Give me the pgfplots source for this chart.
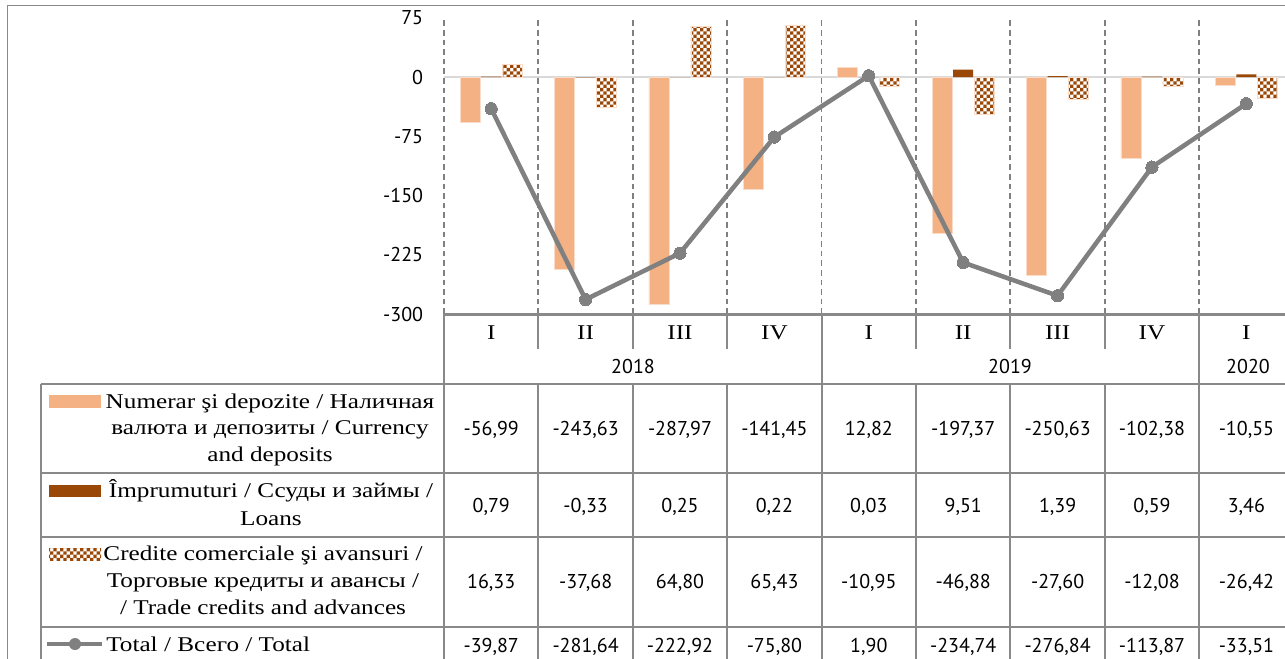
\documentclass[border=0pt]{standalone}
\usepackage{fontspec}
\setmainfont{Liberation Serif}[FakeStretch=1.2]
\newfontfamily\sansf{PT Sans}
\usepackage{pgfplots}
\usepackage{pgfplotstable}
\pgfplotsset{compat=1.18}
\usetikzlibrary{patterns}

\pgfdeclarepatternformonly{bigcheck}{\pgfqpoint{-.1pt}{-.1pt}}{\pgfqpoint{5.1pt}{5.1pt}}{\pgfqpoint{5pt}{5pt}}{%
  \pgfpathrectangle{\pgfqpoint{0pt}{0pt}}{\pgfqpoint{2.55pt}{2.55pt}}%
  \pgfpathrectangle{\pgfqpoint{2.5pt}{2.5pt}}{\pgfqpoint{2.55pt}{2.55pt}}%
  \pgfusepath{fill}}

\definecolor{cur}{RGB}{244,177,131}
\definecolor{loan}{RGB}{153,72,8}
\definecolor{tot}{RGB}{128,128,128}
\definecolor{gridc}{RGB}{128,128,128}
\definecolor{zeroc}{RGB}{217,217,217}
\definecolor{tbl}{RGB}{137,137,137}
\definecolor{edge}{RGB}{250,220,200}

\pgfplotstableread{
x cur loan trade total
0 -56.99 0.79 16.33 -39.87
1 -243.63 -0.33 -37.68 -281.64
2 -287.97 0.25 64.80 -222.92
3 -141.45 0.22 65.43 -75.80
4 12.82 0.03 -10.95 1.90
5 -197.37 9.51 -46.88 -234.74
6 -250.63 1.39 -27.60 -276.84
7 -102.38 0.59 -12.08 -113.87
8 -10.55 3.46 -26.42 -33.51
}\data

\newcommand\serifsz{\fontsize{15.75}{19}\selectfont}
\newcommand\sanssz{\sansf\fontsize{15}{18}\selectfont}

\begin{document}
\begin{tikzpicture}
\useasboundingbox (0pt,0pt) rectangle (963.75pt,-493.5pt);
\clip (0pt,0pt) rectangle (963.75pt,-493.5pt);

\begin{axis}[
  at={(333pt,-235.5pt)}, anchor=south west,
  width=630.75pt, height=222pt, scale only axis,
  xmin=-0.5, xmax=8.41, ymin=-300, ymax=75,
  clip=false,
  axis line style={draw=none},
  tick style={draw=none},
  major tick length=0pt,
  xtick={-0.5,0.5,...,7.5}, xticklabels={},
  xmajorgrids,
  major grid style={gridc, line width=1.4pt, dash pattern=on 4.2pt off 3pt},
  ytick={-300,-225,-150,-75,0,75},
  yticklabels={-300,-225,-150,-75,0,75},
  yticklabel style={font=\sanssz, inner sep=0pt, xshift=-15.5pt},
]
\draw[zeroc, line width=1.6pt] (axis cs:-0.5,0) -- (axis cs:8.41,0);
\addplot[ybar, bar width=15pt, bar shift=-15.75pt, fill=cur, draw=edge, line width=0.5pt] table[x=x,y=cur]{\data};
\addplot[ybar, bar width=15pt, bar shift=0pt, fill=loan, draw=none] table[x=x,y=loan]{\data};
\addplot[ybar, bar width=15pt, bar shift=15.75pt, pattern=bigcheck, pattern color=loan, draw=edge, line width=0.5pt] table[x=x,y=trade]{\data};
\addplot[sharp plot, draw=tot, line width=3.4pt, mark=*, mark size=4.6pt, mark options={fill=tot, draw=tot, line width=0pt}] table[x=x,y=total]{\data};
\end{axis}

\begin{scope}[x=0.75pt,y=-0.75pt]
% outer frame
\draw[tbl, line width=1.1pt] (7.5,700) -- (7.5,5.5) -- (1300,5.5);
% axis bottom line
\draw[tbl, line width=1.7pt] (444,314.5) -- (1300,314.5);
% quarter separators
\foreach \k in {1,2,3,5,6,7} \draw[tbl, line width=1.5pt] ({444+94.4*\k},314) -- ({444+94.4*\k},349);
% year separators
\foreach \k in {0,4,8} \draw[tbl, line width=1.5pt] ({444+94.4*\k},314) -- ({444+94.4*\k},700);
% table verticals
\foreach \k in {1,2,3,5,6,7} \draw[tbl, line width=1.5pt] ({444+94.4*\k},384) -- ({444+94.4*\k},700);
\draw[tbl, line width=1.5pt] (40.5,384) -- (40.5,700);
% table horizontals
\foreach \yy in {384,473,537,627} \draw[tbl, line width=1.5pt] (40.5,\yy) -- (1300,\yy);

% quarter labels
\foreach \q [count=\i from 0] in {I,II,III,IV,I,II,III,IV,I}
  \node[anchor=base, inner sep=0pt, font=\serifsz] at ({491.2+94.4*\i},339) {\q};
% years
\node[anchor=base, inner sep=0pt, font=\sanssz] at (633,373) {2018};
\node[anchor=base, inner sep=0pt, font=\sanssz] at (1010,373) {2019};
\node[anchor=base, inner sep=0pt, font=\sanssz] at (1248,373) {2020};

% numbers
\foreach \v [count=\i from 0] in {-56{,}99,-243{,}63,-287{,}97,-141{,}45,12{,}82,-197{,}37,-250{,}63,-102{,}38,-10{,}55}
  \node[anchor=base, inner sep=0pt, font=\sanssz] at ({491.2+94.4*\i},435) {\v};
\foreach \v [count=\i from 0] in {0{,}79,-0{,}33,0{,}25,0{,}22,0{,}03,9{,}51,1{,}39,0{,}59,3{,}46}
  \node[anchor=base, inner sep=0pt, font=\sanssz] at ({491.2+94.4*\i},512) {\v};
\foreach \v [count=\i from 0] in {16{,}33,-37{,}68,64{,}80,65{,}43,-10{,}95,-46{,}88,-27{,}60,-12{,}08,-26{,}42}
  \node[anchor=base, inner sep=0pt, font=\sanssz] at ({491.2+94.4*\i},588) {\v};
\foreach \v [count=\i from 0] in {-39{,}87,-281{,}64,-222{,}92,-75{,}80,1{,}90,-234{,}74,-276{,}84,-113{,}87,-33{,}51}
  \node[anchor=base, inner sep=0pt, font=\sanssz] at ({491.2+94.4*\i},652) {\v};

% legend keys
\fill[cur] (49,395) rectangle (101,408);
\fill[loan] (49,485) rectangle (101,497);
\fill[pattern=bigcheck, pattern color=loan] (49,548) rectangle (101,560);
\draw[tot, line width=3.4pt] (47,644) -- (102,644);
\fill[tot] (75,644) circle (6);

% legend texts
\node[anchor=base, inner sep=0pt, font=\serifsz] at (270,408) {Numerar şi depozite / Наличная};
\node[anchor=base, inner sep=0pt, font=\serifsz] at (270,434.5) {валюта и депозиты / Currency};
\node[anchor=base, inner sep=0pt, font=\serifsz] at (270,461) {and deposits};
\node[anchor=base, inner sep=0pt, font=\serifsz] at (271,497) {Împrumuturi / Ссуды и займы /};
\node[anchor=base, inner sep=0pt, font=\serifsz] at (271,525) {Loans};
\node[anchor=base, inner sep=0pt, font=\serifsz] at (263,560) {Credite comerciale şi avansuri /};
\node[anchor=base, inner sep=0pt, font=\serifsz] at (263,587) {Торговые кредиты и авансы /};
\node[anchor=base, inner sep=0pt, font=\serifsz] at (263,614) {/ Trade credits and advances};
\node[anchor=base west, inner sep=0pt, font=\serifsz] at (106,651) {Total / Всего / Total};
\end{scope}
\end{tikzpicture}
\end{document}
